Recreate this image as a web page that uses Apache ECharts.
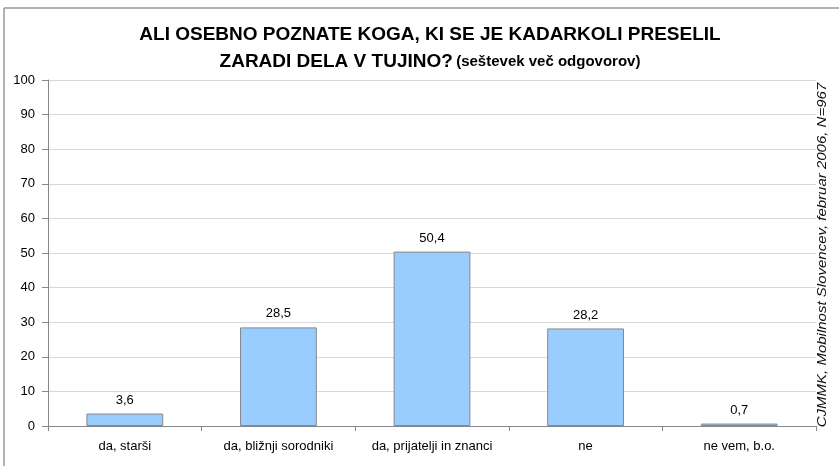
<!DOCTYPE html>
<html><head><meta charset="utf-8">
<script src="https://cdn.jsdelivr.net/npm/echarts@6/dist/echarts.min.js"></script>
<style>html,body{margin:0;padding:0;background:#fff}#c{width:839px;height:466px}</style>
</head><body><div id="c"></div>
<script>
const categories = ['da, starši', 'da, bližnji sorodniki', 'da, prijatelji in znanci', 'ne', 'ne vem, b.o.'];
const values = [3.6, 28.5, 50.4, 28.2, 0.7];
const yTicks = [0, 10, 20, 30, 40, 50, 60, 70, 80, 90, 100];
const titleLine1 = 'ALI OSEBNO POZNATE KOGA, KI SE JE KADARKOLI PRESELIL';
const titleLine2 = 'ZARADI DELA V TUJINO?';
const titleSub = '(seštevek več odgovorov)';
const sourceText = 'CJMMK, Mobilnost Slovencev, februar 2006, N=967';

const chart = echarts.init(document.getElementById('c'), null, {renderer: 'canvas'});
const font = 'Liberation Sans, Arial, sans-serif';
chart.setOption({
  animation: false,
  backgroundColor: '#fff',
  textStyle: {fontFamily: font},
  grid: {left: 48, right: 23, top: 80, bottom: 40, containLabel: false},
  xAxis: {
    type: 'category', data: categories,
    axisLine: {lineStyle: {color: '#888', width: 1}},
    axisTick: {show: true, interval: 0, alignWithLabel: false, length: 5, lineStyle: {color: '#888'}},
    axisLabel: {color: '#000', fontSize: 13, fontFamily: font, margin: 14, interval: 0}
  },
  yAxis: {
    type: 'value', min: 0, max: 100, interval: 10,
    axisLine: {show: true, lineStyle: {color: '#888'}},
    axisTick: {show: true, length: 6, lineStyle: {color: '#888'}},
    axisLabel: {color: '#000', fontSize: 13, fontFamily: font, margin: 13},
    splitLine: {lineStyle: {color: '#d9d9d9', width: 1}}
  },
  series: [{
    type: 'bar', data: values, barWidth: '50%',
    itemStyle: {color: '#99CCFF', borderColor: '#888', borderWidth: 1},
    label: {show: true, position: 'top', distance: 7, color: '#000', fontSize: 13, fontFamily: font,
      formatter: p => String(p.value).replace('.', ',')}
  }],
  graphic: [
    {type: 'line', shape: {x1: 4, y1: 8, x2: 839, y2: 8}, style: {stroke: '#999', lineWidth: 1.5}},
    {type: 'line', shape: {x1: 4, y1: 8, x2: 4, y2: 466}, style: {stroke: '#999', lineWidth: 1.5}},
    {type: 'text', x: 430, y: 21,
      style: {
        text: '{a|' + titleLine1 + '}\n{a|' + titleLine2 + '} {b|' + titleSub + '}',
        align: 'center', verticalAlign: 'top',
        rich: {
          a: {fontFamily: font, fontSize: 19, fontWeight: 'bold', fill: '#000', lineHeight: 27, align: 'center'},
          b: {fontFamily: font, fontSize: 15, fontWeight: 'bold', fill: '#000', lineHeight: 27, align: 'center'}
        }
      }},
    {type: 'text', x: 823, y: 255, rotation: Math.PI / 2, scaleX: 1.25,
      style: {text: sourceText, fontFamily: font, fontSize: 12, fontStyle: 'italic', fill: '#111',
        align: 'center', verticalAlign: 'middle'}}
  ]
});
</script></body></html>
